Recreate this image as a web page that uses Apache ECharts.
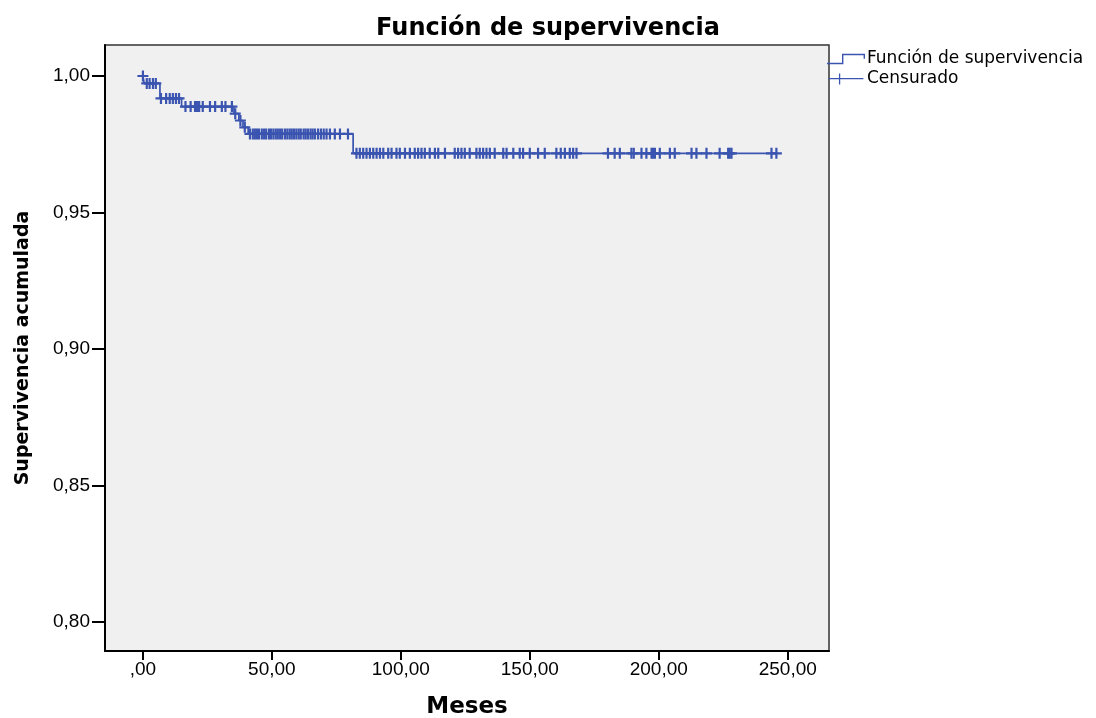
<!DOCTYPE html>
<html>
<head>
<meta charset="utf-8">
<script src="https://cdn.jsdelivr.net/npm/echarts@6/dist/echarts.min.js"></script>
<style>html,body{margin:0;padding:0;background:#fff;}#chart{width:1096px;height:718px;}</style>
</head>
<body>
<div id="chart"></div>
<script>
// ---- data ----
var titleText = 'Función de supervivencia';
var xName = 'Meses';
var yName = 'Supervivencia acumulada';
var seriesNames = ['Función de supervivencia', 'Censurado'];

// Kaplan-Meier step: event times and survival after each event
var eventTimes = [0, 0.5, 6.6, 15.0, 35.3, 37.2, 38.8, 40.8, 81.5];
var survival   = [1.0, 0.9973, 0.9918, 0.9888, 0.9862, 0.9837, 0.9812, 0.9788, 0.9717];
var lastTime = 246;

// censored observation times
var censorTimes = [
  0, 1.5, 2.6, 3.9, 5.0,
  7.0, 9.0, 10.4, 11.6, 12.8, 14.0,
  16.5, 18.5, 20.2, 21.0, 21.8, 23.2, 26.0, 28.0, 30.6, 32.0, 34.5,
  35.8, 37.8, 39.5,
  41.5, 42.6, 43.4, 44.2, 45.0, 46.1, 47.0, 47.8, 48.9, 49.7, 50.6, 51.5, 52.3, 53.2, 54.0,
  55.1, 56.0, 56.9, 57.7, 58.6, 59.5, 60.4, 61.2, 62.3, 63.1, 64.0, 65.0, 65.8, 66.7, 67.9,
  69.0, 70.1, 71.2, 72.5, 74.4, 76.4, 79.5,
  82.8, 84.1, 85.4, 86.7, 88.0, 89.3, 90.6, 91.9, 93.2, 95.1, 96.4, 98.3, 99.6, 101.6, 103.5,
  105.4, 106.7, 108.0, 109.3, 111.2, 113.2, 114.5, 117.1, 120.9, 122.2, 123.5, 124.8, 126.7,
  129.3, 130.6, 131.9, 133.2, 134.5, 136.4, 139.7, 141.0, 143.6, 146.1, 147.4, 150.0, 153.2,
  155.8, 160.3, 162.0, 163.6, 165.5, 166.8, 168.1,
  180.3, 182.9, 184.9, 189.4, 190.3, 193.3, 195.2, 197.2, 197.8, 198.5, 200.4, 204.3, 206.2,
  212.7, 214.6, 218.5, 223.6, 226.9, 227.5, 228.2, 243.7, 245.6
];

var xTicks = [0, 50, 100, 150, 200, 250];
var yTicks = [0.80, 0.85, 0.90, 0.95, 1.00];

// ---- build series data ----
function survivalAt(t) {
  var s = survival[0];
  for (var i = 0; i < eventTimes.length; i++) { if (eventTimes[i] <= t) s = survival[i]; }
  return s;
}
var lineData = eventTimes.map(function (t, i) { return [t, survival[i]]; });
lineData.push([lastTime, survival[survival.length - 1]]);
var censorData = censorTimes.map(function (t) { return [t, survivalAt(t)]; });

var blue = '#3a54b0';
var stepIcon = 'path://M0,9H15V0H38V5H36.6V1.4H16.4V10.4H0Z';
var crossIcon = 'path://M0,5H38V6.4H0Z M11.3,0H12.7V12H11.3Z';
var plusSymbol = 'path://M0,4H10V6H0Z M4,0H6V10H4Z';

var chart = echarts.init(document.getElementById('chart'), null, { renderer: 'canvas' });
chart.setOption({
  animation: false,
  backgroundColor: '#ffffff',
  title: {
    text: titleText,
    left: 'center',
    top: 12,
    textStyle: { fontFamily: 'DejaVu Sans', fontWeight: 'bold', fontSize: 24, color: '#000' }
  },
  legend: {
    orient: 'vertical',
    left: 827,
    top: 50,
    itemWidth: 38,
    itemHeight: 11,
    itemGap: 2,
    padding: 0,
    textStyle: { fontFamily: 'DejaVu Sans', fontSize: 17, color: '#000', lineHeight: 18, padding: [0, 0, 0, -3] },
    data: [
      { name: seriesNames[0], icon: stepIcon },
      { name: seriesNames[1], icon: crossIcon }
    ]
  },
  grid: {
    left: 105, right: 267, top: 45, bottom: 67,
    outerBoundsMode: 'none',
    containLabel: false,
    show: true, backgroundColor: '#f0f0f0', borderColor: '#333', borderWidth: 1.5
  },
  xAxis: {
    type: 'value',
    min: -14.7, max: 266,
    name: xName,
    nameLocation: 'middle',
    nameGap: 45,
    nameTextStyle: { fontFamily: 'DejaVu Sans', fontWeight: 'bold', fontSize: 23, color: '#000' },
    axisLine: { show: true, onZero: false, lineStyle: { color: '#000', width: 2 } },
    axisTick: { show: true, length: 9, customValues: xTicks, lineStyle: { color: '#000', width: 2 } },
    axisLabel: {
      customValues: xTicks, margin: 9, color: '#000',
      fontFamily: 'Liberation Sans', fontSize: 19,
      formatter: function (v) { return v === 0 ? ',00' : v.toFixed(2).replace('.', ','); }
    },
    splitLine: { show: false }
  },
  yAxis: {
    type: 'value',
    min: 0.7894, max: 1.01136,
    name: yName,
    nameLocation: 'middle',
    nameGap: 72,
    nameTextStyle: { fontFamily: 'DejaVu Sans', fontWeight: 'bold', fontSize: 19, color: '#000' },
    axisLine: { show: true, onZero: false, lineStyle: { color: '#000', width: 2 } },
    axisTick: { show: true, length: 13, customValues: yTicks, lineStyle: { color: '#000', width: 2 } },
    axisLabel: {
      customValues: yTicks, margin: 15, color: '#000',
      fontFamily: 'Liberation Sans', fontSize: 19,
      formatter: function (v) { return v.toFixed(2).replace('.', ','); }
    },
    splitLine: { show: false }
  },
  series: [
    {
      name: seriesNames[0],
      type: 'line',
      step: 'end',
      data: lineData,
      showSymbol: false,
      symbol: 'none',
      lineStyle: { color: blue, width: 1.7 },
      itemStyle: { color: blue },
      z: 2
    },
    {
      name: seriesNames[1],
      type: 'scatter',
      data: censorData,
      symbol: plusSymbol,
      symbolSize: 11,
      itemStyle: { color: blue, opacity: 1 },
      z: 3
    }
  ]
});
</script>
</body>
</html>
